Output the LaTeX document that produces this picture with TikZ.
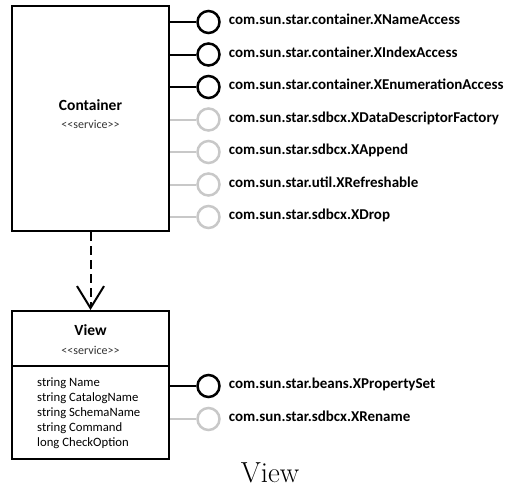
\documentclass[tikz,border=0pt]{standalone}
\usepackage{fontspec}
\setsansfont{Carlito}
\usetikzlibrary{arrows.meta,positioning}
\definecolor{umInk}  {HTML}{000000}
\definecolor{umFade} {HTML}{C8C8C8}
\definecolor{umNote} {HTML}{333333}

\begin{document}
\begin{tikzpicture}[x=1pt,y=-1pt,font=\sffamily,
    svcbox/.style={draw=umInk,line width=2pt,rectangle,inner sep=0pt},
    svcname/.style={font=\sffamily\bfseries\fontsize{15.5}{18}\selectfont},
    svcnote/.style={font=\sffamily\fontsize{12}{14}\selectfont,text=umNote},
    ball/.style={circle,draw=#1,line width=2.5pt,minimum size=22pt,inner sep=0pt},
    wire/.style={draw=#1,line width=2pt},
    ifcname/.style={font=\sffamily\bfseries\fontsize{15}{18}\selectfont,
                    inner sep=0pt,anchor=west,text height=1.6ex,text depth=.4ex},
    dep/.style={line width=2pt,dash pattern=on 9pt off 5pt,
                -{Straight Barb[length=22pt,width=27pt]}}]
        \useasboundingbox (0,0) rectangle (505,487);

        % the container service
        \node[svcbox,minimum width=157pt,minimum height=225pt] (container) at (90.5,118.5) {};
        \node[svcname] (contTitle) at (90.5,105) {Container};
        \node[svcnote] (contStereo) at (90.5,124) {<{}<service>{}>};

        \foreach \lab/\ink [count=\i] in {
            com.sun.star.container.XNameAccess/umInk,
            com.sun.star.container.XIndexAccess/umInk,
            com.sun.star.container.XEnumerationAccess/umInk,
            com.sun.star.sdbcx.XDataDescriptorFactory/umFade,
            com.sun.star.sdbcx.XAppend/umFade,
            com.sun.star.util.XRefreshable/umFade,
            com.sun.star.sdbcx.XDrop/umFade} {
          \node[ball=\ink] (cb\i) at (208.5,{22+32.5*(\i-1)}) {};
          \node[ifcname,right=8pt of cb\i] (cl\i) {\lab};
          \draw[wire=\ink] (container.east |- cb\i) -- (cb\i.west);
        }

        % the view service
        \node[svcbox,minimum width=157pt,minimum height=148pt] (view) at (90.5,385) {};
        \draw[line width=2pt] ([yshift=-56pt]view.north west) -- ([yshift=-56pt]view.north east);
        \node[svcname] (viewTitle) at (90.5,330) {View};
        \node[svcnote] (viewStereo) at (90.5,350) {<{}<service>{}>};
        \node[anchor=north west,inner sep=0pt,align=left,
              font=\sffamily\fontsize{12.7}{15}\selectfont] (viewProps) at (37,378) {
          string Name\\
          string CatalogName\\
          string SchemaName\\
          string Command\\
          long CheckOption};

        \foreach \lab/\ink [count=\i] in {
            com.sun.star.beans.XPropertySet/umInk,
            com.sun.star.sdbcx.XRename/umFade} {
          \node[ball=\ink] (vb\i) at (208.5,{386+33*(\i-1)}) {};
          \node[ifcname,right=8pt of vb\i] (vl\i) {\lab};
          \draw[wire=\ink] (view.east |- vb\i) -- (vb\i.west);
        }

        \draw[dep] (container.south) -- (view.north);

        \node[font=\rmfamily\fontsize{29}{34}\selectfont,inner sep=0pt,anchor=base] (caption) at (270,482) {View};
      \end{tikzpicture}
\end{document}
